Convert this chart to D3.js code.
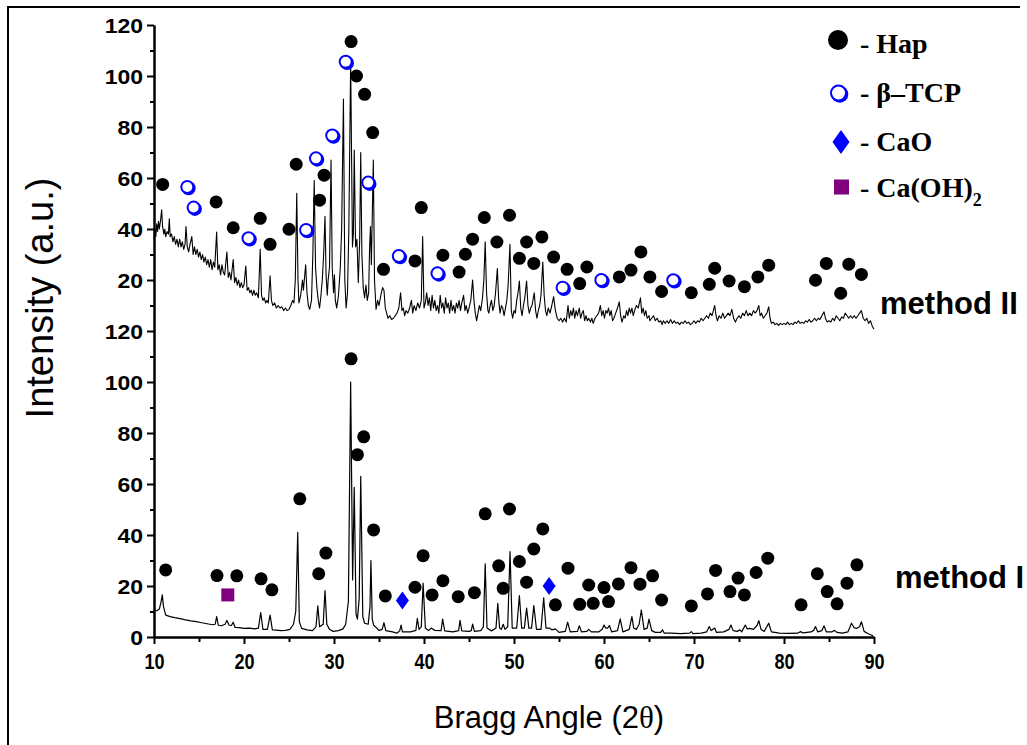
<!DOCTYPE html>
<html>
<head>
<meta charset="utf-8">
<script src="https://cdn.jsdelivr.net/npm/d3@7"></script>
<style>
  body { margin: 0; background: #fff; }
  .tick_label { font-family: 'Liberation Sans', Arial, sans-serif; font-weight: bold; }
</style>
</head>
<body>
<div id="chart"></div>
<script>
// XRD traces: [2theta, intensity]
// method II values are in its own units; it is drawn shifted up by offset_ii
const method_ii_trace = [
  [10.0,36],[10.1,40],[10.2,37],[10.3,42],[10.4,39],[10.5,43],[10.6,40],[10.75,44],[10.85,47.5],[10.95,41],
  [11.1,38],[11.2,40],[11.3,37],[11.45,39],[11.6,38],[11.7,44],[11.8,37],[11.95,38],[12.1,35],[12.25,37],
  [12.4,34],[12.55,36],[12.7,33],[12.85,36],[13.0,33],[13.15,35],[13.3,32],[13.45,34],[13.55,41],[13.7,33],
  [13.85,31],[14.0,34],[14.2,37],[14.35,30],[14.5,33],[14.65,30],[14.8,32],[14.95,29],[15.1,31],[15.25,28],
  [15.4,30],[15.55,27],[15.7,29],[15.85,26],[16.0,28],[16.15,25],[16.3,28],[16.45,24],[16.6,27],[16.75,25],
  [16.96,38.8],[17.1,24],[17.25,26],[17.4,22],[17.55,26],[17.7,23],[17.85,22],[18.1,31],[18.25,21],[18.4,23],
  [18.55,20],[18.8,28],[18.95,19],[19.1,21],[19.25,18],[19.4,20],[19.55,17],[19.7,19],[19.85,17],[20.0,18],
  [20.2,25.5],[20.35,16],[20.5,17],[20.65,15],[20.8,16],[20.95,14],[21.1,16],[21.25,14],[21.4,15],[21.6,13],
  [21.8,32],[21.95,14],[22.1,12],[22.25,13],[22.4,11],[22.55,12],[22.7,11],[22.9,21.6],[23.05,12],[23.2,10],
  [23.4,11],[23.6,9],[23.8,10],[24.0,9],[24.2,9.5],[24.4,8],[24.6,9],[24.8,8],[25.0,8.5],[25.2,10],
  [25.4,12],[25.55,11],[25.7,20],[25.86,54],[26.0,20],[26.1,11],[26.3,14],[26.5,20],[26.6,16],[26.85,26],
  [27.0,15],[27.15,10],[27.3,8.5],[27.5,12],[27.65,30],[27.8,59],[27.95,25],[28.1,17],[28.25,12],[28.4,9],
  [28.55,14],[28.7,20],[28.85,30],[29.0,45],[29.12,22],[29.25,14],[29.35,20],[29.5,25],[29.67,67],[29.8,25],
  [29.95,15],[30.05,22],[30.15,12],[30.3,9],[30.5,14],[30.7,25],[30.85,40],[31.05,91],[31.2,20],[31.35,9],
  [31.5,15],[31.65,40],[31.85,106],[32.05,33],[32.15,38],[32.25,71],[32.4,33],[32.55,36],[32.7,19],[32.85,35],
  [32.97,70],[33.1,30],[33.25,17],[33.4,13],[33.55,18],[33.7,12],[33.85,15],[33.95,32],[34.05,41],[34.15,26],
  [34.37,67],[34.5,20],[34.67,8.5],[34.85,12],[35.0,10],[35.2,14],[35.4,17],[35.55,16],[35.7,9],[35.85,7],
  [36.0,5],[36.2,6],[36.4,4.5],[36.6,5],[36.8,6],[37.0,7],[37.2,9],[37.4,15],[37.55,8],[37.7,9],
  [37.85,6],[38.0,8],[38.2,7],[38.4,9],[38.6,12],[38.75,7],[38.9,10],[39.1,8],[39.3,11],[39.5,9],
  [39.7,12],[39.85,37],[40.0,9],[40.15,11],[40.3,15],[40.45,10],[40.6,13],[40.75,8],[40.9,14],[41.05,9],
  [41.2,12],[41.35,8],[41.5,10],[41.65,7],[41.8,14],[41.95,9],[42.1,11],[42.25,7],[42.4,13],[42.55,9],
  [42.7,11],[42.85,7],[43.0,12],[43.15,8],[43.3,10],[43.45,7],[43.6,11],[43.75,9],[43.9,12],[44.05,8],
  [44.2,11],[44.4,14],[44.55,8],[44.7,10],[44.85,7],[45.0,9],[45.2,12],[45.4,20],[45.55,12],[45.7,7],
  [45.85,4],[46.0,7],[46.15,10],[46.3,8],[46.5,13],[46.65,20],[46.8,35],[46.95,15],[47.1,8],[47.2,7],
  [47.35,10],[47.5,12],[47.65,8],[47.8,10],[47.95,15],[48.15,24.5],[48.3,12],[48.45,7],[48.6,10],[48.75,9],
  [48.9,6],[49.05,9],[49.2,12],[49.35,18],[49.55,34],[49.7,8],[49.85,5],[50.0,8],[50.15,7],[50.3,12],
  [50.45,15],[50.6,19.6],[50.75,9],[50.9,6],[51.05,10],[51.2,13],[51.4,19.6],[51.55,10],[51.7,7],[51.85,9],
  [52.0,10],[52.25,15],[52.4,8],[52.55,5],[52.7,8],[52.85,10],[53.0,14],[53.2,27],[53.35,14],[53.5,8],
  [53.65,6],[53.8,9],[54.0,7],[54.2,10],[54.4,13.5],[54.6,8],[54.8,5],[55.0,4],[55.2,5],[55.4,3.5],
  [55.6,5],[55.8,3.5],[56.0,10],[56.15,5],[56.3,8],[56.45,6],[56.6,9],[56.75,5],[56.9,8],[57.05,6],
  [57.25,9],[57.4,5],[57.55,7],[57.7,8],[57.85,4],[58.0,6],[58.15,4],[58.3,5],[58.5,3.5],[58.65,5],
  [58.8,3],[59.0,5],[59.2,6],[59.4,7],[59.6,10],[59.75,6],[59.9,8],[60.05,5],[60.2,8],[60.35,7],
  [60.5,9],[60.65,6],[60.8,8],[60.95,4],[61.1,5],[61.3,7],[61.5,9],[61.7,11.4],[61.85,6],[62.0,3.5],
  [62.2,6],[62.35,5],[62.5,8],[62.65,6],[62.8,9],[62.95,7],[63.1,9],[63.25,6],[63.4,8],[63.6,10],
  [63.8,9],[64.05,13],[64.2,7],[64.35,9],[64.5,6],[64.65,8],[64.8,5],[65.0,6],[65.1,4],[65.3,5],
  [65.5,6],[65.7,4],[65.9,5],[66.1,3.5],[66.3,4],[66.45,2.5],[66.6,4],[66.8,3],[67.0,4],[67.2,3],
  [67.4,4.5],[67.6,3],[67.8,4],[68.0,3],[68.2,3.5],[68.4,2.5],[68.6,3.5],[68.8,3],[69.0,4],[69.2,3],
  [69.4,3.5],[69.6,2.5],[69.8,3],[70.0,4],[70.2,3],[70.4,4],[70.6,3.5],[70.8,5],[71.0,4],[71.2,5],
  [71.4,6],[71.6,5],[71.8,7],[72.0,6],[72.15,8],[72.3,10],[72.45,6],[72.6,4],[72.8,6],[73.0,5],
  [73.2,7],[73.4,5],[73.6,6],[73.8,7],[74.0,6],[74.2,8.5],[74.4,5],[74.6,3.5],[74.8,5],[75.0,6],
  [75.2,5],[75.4,7],[75.6,6],[75.8,8],[76.0,6],[76.2,7],[76.4,6],[76.6,8],[76.8,7],[77.0,8],
  [77.2,10],[77.35,6],[77.5,7],[77.7,5],[77.9,6],[78.1,7],[78.3,9.5],[78.45,5],[78.6,3],[78.8,3.5],
  [79.0,2.5],[79.2,3],[79.4,2.2],[79.6,3],[79.8,2.5],[80.0,3],[80.2,2.5],[80.4,3.5],[80.6,2.5],[80.8,3],
  [81.0,2.5],[81.2,3.5],[81.4,3],[81.6,4],[81.8,3],[82.0,3.5],[82.2,3],[82.4,4],[82.6,3.5],[82.8,4.5],
  [83.0,3.5],[83.2,4],[83.4,5],[83.6,4],[83.8,5],[84.0,4.5],[84.2,6],[84.45,7.5],[84.6,5],[84.8,3.5],
  [85.0,4],[85.2,3.5],[85.4,5],[85.6,4],[85.8,6],[86.0,5],[86.2,4],[86.4,5.5],[86.6,5],[86.8,7],
  [87.0,6],[87.2,5],[87.4,6],[87.6,5],[87.8,6],[88.0,5],[88.2,6],[88.4,7],[88.6,8],[88.8,5],
  [89.0,4],[89.2,5],[89.4,3],[89.6,4],[89.8,2],[90.0,0.7]
];

const method_i_trace = [
  [10.0,10.5],[10.3,10.3],[10.6,11],[10.8,14],[10.92,16.5],[11.05,12],[11.3,8.6],[11.8,8],[12.3,7.6],[12.9,7.2],
  [13.5,6.7],[14.1,6.3],[14.7,6],[15.3,5.6],[15.9,5.2],[16.5,4.8],[16.8,5],[16.96,8],[17.15,4.6],[17.5,4.4],
  [17.9,5],[18.1,6.5],[18.35,4.6],[18.6,4.5],[18.8,5.8],[19.0,3.8],[19.5,3.7],[20.0,3.4],[20.6,3.5],[21.2,3.2],
  [21.6,3.5],[21.86,9.6],[22.1,3],[22.6,3],[22.9,8.6],[23.15,2.8],[23.6,2.7],[24.1,2.5],[24.6,2.6],[25.1,3],
  [25.5,5],[25.75,10],[25.97,41],[26.15,6],[26.4,3.4],[27.0,2.8],[27.6,2.5],[28.0,4],[28.2,12.2],[28.4,4],
  [28.8,5],[29.0,18.2],[29.2,5],[29.5,3],[29.9,2.2],[30.5,2.5],[31.0,3.2],[31.3,5],[31.6,14],[31.85,100],
  [32.07,22.4],[32.25,58.7],[32.45,9],[32.6,7],[32.8,15],[32.97,63],[33.2,8],[33.4,5.4],[33.8,5],[34.0,12],
  [34.1,30],[34.25,7],[34.4,4.7],[35.0,2.6],[35.35,3],[35.55,5.6],[35.75,2.5],[36.5,2],[37.0,1.5],[37.3,2.4],
  [37.45,4.7],[37.6,2],[38.5,2],[39.1,2.6],[39.26,7.3],[39.45,3],[39.7,4],[39.9,21.1],[40.15,3.5],[40.5,2.5],
  [40.8,3.5],[41.2,2.6],[41.9,2.5],[42.07,7],[42.3,2.4],[43.2,2],[43.85,2.5],[44.0,6.5],[44.2,2.4],[45.0,2.2],
  [45.25,2.5],[45.4,5.1],[45.6,2.2],[46.3,2.5],[46.6,4],[46.8,28.7],[47.0,3.5],[47.5,2.4],[48.0,3.5],[48.2,13.2],
  [48.4,3.5],[48.6,3],[48.8,5],[49.0,3],[49.3,4],[49.56,33.5],[49.8,3.5],[50.3,3.5],[50.6,16.2],[50.85,3.5],
  [51.15,3.5],[51.4,11.3],[51.65,3.5],[51.95,3.5],[52.2,12.3],[52.5,3],[53.0,3],[53.3,15.4],[53.55,3.5],[53.9,3.5],
  [54.2,2.8],[54.6,3.2],[55.0,1.8],[55.7,2.2],[55.96,5.8],[56.25,2],[57.05,2.2],[57.26,4.4],[57.5,2],[58.1,2.2],
  [58.3,3],[58.6,2],[59.4,2],[59.8,3],[60.0,4.7],[60.2,3.5],[60.4,3.5],[60.6,4.5],[60.85,2],[61.5,2.5],
  [61.8,7.1],[62.1,2],[62.8,3],[63.1,8],[63.3,3.5],[63.6,3],[63.9,5],[64.15,10.6],[64.45,3],[64.8,3.5],
  [65.0,7],[65.3,2.5],[65.7,1.8],[66.3,1.8],[66.5,2.8],[66.7,1.5],[67.5,1.5],[68.5,1.3],[69.5,1.5],[69.7,2.1],
  [69.9,1.3],[70.8,1.5],[71.4,2],[71.7,4.1],[71.9,2.5],[72.1,3],[72.3,3.5],[72.5,1.8],[73.3,2],[73.9,3],
  [74.1,4.7],[74.35,2.5],[74.8,2.2],[75.1,2.8],[75.3,2],[75.7,4.7],[75.9,3.2],[76.2,3.4],[76.6,3],[77.0,4.5],
  [77.2,6.4],[77.45,3],[77.8,2.2],[78.3,5.4],[78.6,2],[79.5,1.5],[80.5,1.4],[81.5,1.5],[81.85,2.1],[82.1,1.6],
  [83.0,2],[83.3,2.6],[83.5,4.1],[83.75,2],[84.2,2.5],[84.45,4.4],[84.7,2],[85.3,2],[85.6,2.6],[85.9,1.8],
  [86.5,1.5],[87.1,2],[87.5,5.4],[87.8,3.6],[88.1,3.4],[88.4,4],[88.6,6],[88.9,2.2],[89.3,1.4],[89.9,0.5]
];

// phase markers [2theta, intensity]
const hap_ii = [
  [10.96,57.5],[16.9,50.6],[18.8,40.5],[21.8,44.2],[22.9,34],[25.0,39.9],[25.8,65.4],[28.4,51.3],[28.9,61.1],
  [31.9,113.5],[32.5,100],[33.4,92.8],[34.3,77.8],[35.5,24.2],[39.0,27.5],[39.7,48.4],[42.1,29.7],[43.9,23.1],
  [44.6,30.1],[45.4,36],[46.7,44.5],[48.1,34.9],[49.5,45.4],[50.6,28.5],[51.4,34.9],[52.2,26.5],[53.1,36.9],
  [54.4,29],[55.9,24.2],[57.3,18.6],[58.1,25.1],[61.7,21.2],[63.0,23.9],[64.1,31],[65.1,21.2],[66.4,15.5],
  [69.7,15],[71.7,18.3],[72.3,24.6],[73.9,19.6],[75.6,17.4],[77.1,21.2],[78.3,25.8],[83.5,19.9],[84.7,26.5],
  [86.3,14.8],[87.2,26.2],[88.6,22.2]
];
const tcp_ii = [
  [13.7,56.5],[14.4,48.4],[20.5,36.4],[26.9,39.6],[28.0,67.7],[29.8,76.7],[31.3,105.6],[33.8,58.2],[37.2,29.4],
  [41.5,22.6],[55.4,17],[59.7,20],[67.7,19.9]
];
const hap_i = [
  [11.3,26.3],[17.0,24.1],[19.2,24],[21.9,22.8],[23.1,18.5],[26.2,54.2],[28.3,24.8],[29.1,32.9],[31.9,109.1],
  [32.6,71.5],[33.3,78.5],[34.4,42],[35.7,16.1],[39.0,19.5],[39.9,31.9],[40.9,16.5],[42.1,22.1],[43.8,15.8],
  [45.6,17.4],[46.8,48.3],[48.3,27.9],[48.8,19.1],[49.5,50.2],[50.6,29.6],[51.4,21.5],[52.2,34.5],[53.2,42.4],
  [54.6,12.6],[56.0,27],[57.3,12.8],[58.3,20.4],[58.8,13.2],[60.0,19.4],[60.5,13.9],[61.6,20.8],[63.0,27.2],
  [64.0,20.7],[65.4,24],[66.4,14.5],[69.7,12.2],[71.5,16.9],[72.4,26.1],[74.0,17.8],[74.9,23.1],[75.6,16.5],
  [76.9,25.3],[78.2,30.9],[81.9,12.6],[83.7,24.8],[84.8,17.8],[85.9,13],[87.0,21.1],[88.1,28.3]
];
const cao_i = [[37.6,14.3],[53.9,20]];
const caoh2_i = [[18.2,16.5]];

const x_ticks = [10, 20, 30, 40, 50, 60, 70, 80, 90];
const x_minor_ticks = [15, 25, 35, 45, 55, 65, 75, 85];
const y_ticks = [0, 20, 40, 60, 80, 100, 120, 140, 160, 180, 200, 220, 240];
const y_tick_labels = ['0', '20', '40', '60', '80', '100', '120', '20', '40', '60', '80', '100', '120'];
const y_minor_ticks = [10, 30, 50, 70, 90, 110, 130, 150, 170, 190, 210, 230];
const offset_ii = 120;
const legend_names = ['Hap', 'β–TCP', 'CaO', 'Ca(OH)'];
const trace_names = ['method II', 'method I'];

const blue = '#0000ff';
const purple = '#800080';

const margin = { top: 25, right: 153, bottom: 108, left: 154 },
  svg_width = 1027, svg_height = 745,
  width = svg_width - margin.left - margin.right,
  height = svg_height - margin.top - margin.bottom;

const root = d3.select('#chart')
  .append('svg')
  .attr('width', svg_width)
  .attr('height', svg_height);

// frame (top and left edge only)
root.append('path')
  .attr('d', 'M8,745 L8,7 L1020,7')
  .attr('fill', 'none')
  .attr('stroke', '#000')
  .attr('stroke-width', 2);

const svg = root.append('g')
  .attr('transform', 'translate(' + margin.left + ',' + margin.top + ')');

const x_scale = d3.scaleLinear().domain([10, 90]).range([0, width]);
const y_scale = d3.scaleLinear().domain([0, 240]).range([height, 0]);

// traces
const line = d3.line()
  .x(d => x_scale(d[0]))
  .y(d => y_scale(d[1]));

svg.append('path')
  .datum(method_i_trace)
  .attr('d', line)
  .attr('fill', 'none')
  .attr('stroke', '#000')
  .attr('stroke-width', 1.2)
  .attr('stroke-linejoin', 'round');

svg.append('path')
  .datum(method_ii_trace.map(d => [d[0], d[1] + offset_ii]))
  .attr('d', line)
  .attr('fill', 'none')
  .attr('stroke', '#000')
  .attr('stroke-width', 1.1)
  .attr('stroke-linejoin', 'round');

// axes
function style_axis(g) {
  g.select('.domain').attr('stroke-width', 2);
  g.selectAll('.tick line').attr('stroke-width', 2);
}

svg.append('g')
  .attr('transform', 'translate(0,' + height + ')')
  .call(d3.axisBottom(x_scale).tickValues(x_minor_ticks).tickFormat('').tickSize(5).tickSizeOuter(0))
  .call(style_axis);

svg.append('g')
  .attr('transform', 'translate(0,' + height + ')')
  .call(d3.axisBottom(x_scale).tickValues(x_ticks).tickSize(7).tickSizeOuter(0))
  .call(style_axis)
  .call(g => g.selectAll('.tick text')
    .attr('class', 'tick_label')
    .attr('y', 0).attr('dy', 0)
    .attr('transform', 'translate(0,32) scale(0.82,1)')
    .style('font-size', '22px')
    .attr('fill', '#000'));

svg.append('g')
  .call(d3.axisLeft(y_scale).tickValues(y_minor_ticks).tickFormat('').tickSize(4).tickSizeOuter(0))
  .call(style_axis);

svg.append('g')
  .call(d3.axisLeft(y_scale).tickValues(y_ticks).tickFormat((d, i) => y_tick_labels[i]).tickSize(7).tickSizeOuter(0))
  .call(style_axis)
  .call(g => g.selectAll('.tick text')
    .attr('class', 'tick_label')
    .attr('x', -9.5).attr('dy', '0.36em')
    .attr('transform', 'scale(1.15,1)')
    .style('font-size', '20px')
    .attr('fill', '#000'));

// axis titles
root.append('text')
  .attr('transform', 'translate(53,' + 298 + ') rotate(-90)')
  .style('text-anchor', 'middle')
  .style('font-family', "'Liberation Sans', Arial, sans-serif")
  .style('font-size', '38px')
  .text('Intensity (a.u.)');

const x_title = root.append('text')
  .attr('x', 549)
  .attr('y', 728)
  .style('text-anchor', 'middle')
  .style('font-family', "'Liberation Sans', Arial, sans-serif")
  .style('font-size', '31px');
x_title.append('tspan').text('Bragg Angle (2');
x_title.append('tspan').style('font-family', "'Liberation Serif', serif").text('θ');
x_title.append('tspan').text(')');

// markers
function filled_circles(data, offset, r) {
  svg.append('g')
    .selectAll('circle')
    .data(data)
    .enter()
    .append('circle')
    .attr('cx', d => x_scale(d[0]))
    .attr('cy', d => y_scale(d[1] + offset))
    .attr('r', r)
    .attr('fill', '#000');
}

function open_circle(g, cx, cy, r) {
  g.append('circle').attr('cx', cx).attr('cy', cy).attr('r', r).attr('fill', blue);
  g.append('circle').attr('cx', cx + 1.3).attr('cy', cy + 1.3).attr('r', r).attr('fill', blue);
  g.append('circle').attr('cx', cx).attr('cy', cy).attr('r', r - 2).attr('fill', '#fff');
}

function diamond(g, cx, cy, w, h, color) {
  g.append('path')
    .attr('d', 'M' + cx + ',' + (cy - h / 2) + 'L' + (cx + w / 2) + ',' + cy +
      'L' + cx + ',' + (cy + h / 2) + 'L' + (cx - w / 2) + ',' + cy + 'Z')
    .attr('fill', color);
}

filled_circles(hap_ii, offset_ii, 6.5);
filled_circles(hap_i, 0, 6.5);

const tcp_g = svg.append('g');
tcp_ii.forEach(d => open_circle(tcp_g, x_scale(d[0]), y_scale(d[1] + offset_ii), 7));

const cao_g = svg.append('g');
cao_i.forEach(d => diamond(cao_g, x_scale(d[0]), y_scale(d[1]), 13, 18, blue));

svg.append('g')
  .selectAll('rect')
  .data(caoh2_i)
  .enter()
  .append('rect')
  .attr('x', d => x_scale(d[0]) - 6.5)
  .attr('y', d => y_scale(d[1]) - 6.5)
  .attr('width', 13)
  .attr('height', 13)
  .attr('fill', purple);

// legend
const legend = root.append('g');
const legend_y = [40, 93, 142, 187];
const legend_base = [53, 102, 151, 197];

legend.append('circle').attr('cx', 838).attr('cy', legend_y[0]).attr('r', 10).attr('fill', '#000');
open_circle(legend, 838.5, legend_y[1], 8.5);
diamond(legend, 841, legend_y[2], 17, 24, blue);
legend.append('rect').attr('x', 834).attr('y', legend_y[3] - 7.5).attr('width', 15).attr('height', 15).attr('fill', purple);

legend_names.forEach(function (name, i) {
  const t = legend.append('text')
    .attr('x', 860)
    .attr('y', legend_base[i])
    .style('font-family', "'Liberation Serif', 'Times New Roman', serif")
    .style('font-weight', 'bold')
    .style('font-size', '28px')
    .text('- ' + name);
  if (i === 3) {
    t.append('tspan').attr('dy', 9).style('font-size', '18px').text('2');
  }
});

// trace names
const trace_pos = [[880, 314], [895, 588]];
trace_names.forEach(function (name, i) {
  root.append('text')
    .attr('x', trace_pos[i][0])
    .attr('y', trace_pos[i][1])
    .style('font-family', "'Liberation Sans', Arial, sans-serif")
    .style('font-weight', 'bold')
    .style('font-size', '31px')
    .text(name);
});
</script>
</body>
</html>
